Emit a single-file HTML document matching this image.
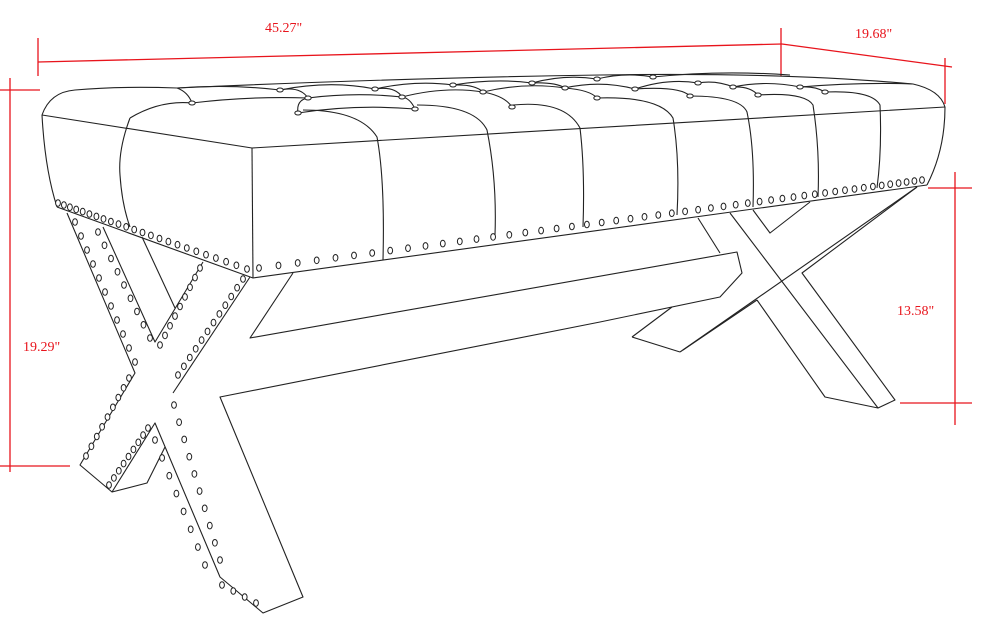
<!DOCTYPE html>
<html><head><meta charset="utf-8">
<style>
html,body{margin:0;padding:0;background:#fff;width:990px;height:634px;overflow:hidden}
svg{display:block}
.d{font-family:"Liberation Serif",serif;font-size:14px;fill:#e8141c}
</style></head><body>
<svg id="s" width="990" height="634" viewBox="0 0 990 634" xmlns="http://www.w3.org/2000/svg">
<g stroke="#e8141c" stroke-width="1.3" fill="none">
<line x1="38" y1="62" x2="782" y2="44"/>
<line x1="38" y1="38" x2="38" y2="76"/>
<line x1="781" y1="28" x2="781" y2="76"/>
<line x1="782" y1="44" x2="952" y2="67"/>
<line x1="945" y1="58" x2="945" y2="104"/>
<line x1="10" y1="78" x2="10" y2="472"/>
<line x1="0" y1="90" x2="40" y2="90"/>
<line x1="0" y1="466" x2="70" y2="466"/>
<line x1="955" y1="172" x2="955" y2="425"/>
<line x1="928" y1="188" x2="972" y2="188"/>
<line x1="900" y1="403" x2="972" y2="403"/>
</g>
<text class="d" x="265" y="32">45.27"</text>
<text class="d" x="855" y="38">19.68"</text>
<text class="d" x="23" y="351">19.29"</text>
<text class="d" x="897" y="315">13.58"</text>

<g stroke="#222" stroke-width="1.1" fill="none" stroke-linejoin="round">
<!-- bench body -->
<path d="M42,115 L252,148 L945,107"/>
<path d="M252,148 L253,278"/>
<path d="M57,207 L253,278 L927,185"/>
<path d="M42,115 Q45,170 57,207"/>
<path d="M945,107 Q945,150 927,185"/>
<path d="M42,115 Q50,92 75,90 Q120,86 177,88 Q400,78 600,75 Q780,72 913,84 Q940,90 945,107"/>
<!-- seams -->
<path d="M130,118 Q118,150 120,175 Q122,205 130,227"/>
<path d="M303,110 Q360,110 377,137 Q385,180 383,260"/>
<path d="M417,105 Q475,105 487,130 Q497,180 495,235"/>
<path d="M513,105 Q565,100 580,128 Q585,170 583,227"/>
<path d="M597,98 Q660,96 673,118 Q680,160 677,215"/>
<path d="M690,96 Q740,96 747,112 Q755,150 753,207"/>
<path d="M758,95 Q805,92 813,105 Q820,150 818,197"/>
<path d="M825,92 Q872,90 880,105 Q882,150 877,188"/>
<!-- tufting curves -->
<path d="M130,118 Q160,100 192,103"/>
<path d="M177,88 Q188,92 192,103"/>
<path d="M192,103 Q250,96 308,98 Q355,92 402,97 Q445,86 483,92 Q525,82 565,88 Q600,80 635,89 Q668,78 698,83 Q716,80 733,87 Q766,80 800,87 Q860,82 913,84"/>
<path d="M298,113 Q296,100 308,98"/>
<path d="M415,109 Q410,98 402,97"/>
<path d="M512,107 Q505,96 483,92"/>
<path d="M597,98 Q590,90 565,88"/>
<path d="M690,96 Q680,86 635,89"/>
<path d="M758,95 Q750,86 733,87"/>
<path d="M825,92 Q815,86 800,87"/>
<path d="M298,113 Q356,104 415,109"/>
<path d="M177,88 Q230,84 280,90 Q330,80 375,89 Q415,80 453,85 Q495,78 532,83 Q565,74 597,79 Q625,72 653,77 Q720,70 790,75"/>
<path d="M280,90 Q300,86 308,98"/>
<path d="M375,89 Q395,86 402,97"/>
<path d="M453,85 Q475,84 483,92"/>
<path d="M532,83 Q555,82 565,88"/>
<!-- left legs -->
<path d="M67,213 L135,373 L80,465 L112,492 L147,483 L165,447"/>
<path d="M112,492 L155,423 L220,577 L263,613 L303,597 L220,397 L600,322 L720,297 L742,273 L737,252 L250,338 L293,273"/>
<path d="M173,393 L250,277"/>
<path d="M103,227 L155,342 L203,262"/>
<path d="M142,237 L175,308"/>
<!-- right legs -->
<path d="M698,218 L720,253"/>
<path d="M730,213 L878,408 L895,400 L802,273 L917,187"/>
<path d="M680,352 L917,187"/>
<path d="M757,300 L825,397 L878,408"/>
<path d="M632,337 L680,352 M632,337 L672,307"/>
<path d="M683,350 L757,300"/>
<path d="M753,210 L770,233 L810,202"/>
</g>
<g id="st" stroke="#222" stroke-width="1" fill="#fff"></g>
</svg>
<script>
var g=document.getElementById('st'),h='';
function e(x,y,rx,ry){h+='<ellipse cx="'+x.toFixed(1)+'" cy="'+y.toFixed(1)+'" rx="'+(rx||2.4)+'" ry="'+(ry||3.3)+'"/>';}
function row(x1,y1,x2,y2,n,f){for(var i=0;i<n;i++){var t=n>1?i/(n-1):0;var u=f?f(t):t;e(x1+(x2-x1)*u,y1+(y2-y1)*u);}}
// buttons
[[192,103],[298,113],[308,98],[415,109],[402,97],[280,90],[375,89],[453,85],[483,92],[512,107],[597,98],[690,96],[758,95],[825,92],[532,83],[565,88],[635,89],[597,79],[653,77],[698,83],[733,87],[800,87]].forEach(function(p){h+='<ellipse cx="'+p[0]+'" cy="'+p[1]+'" rx="3.2" ry="2"/>';});
row(259,268,922,180,50,function(t){return t*(1.45-0.45*t);});
row(58,203,247,269,24,function(t){return t*(0.7+0.3*t);});
row(75,222,135,362,11);
row(98,232,150,338,9);
row(160,345,200,268,9);
row(178,375,243,279,12);
row(129,378,86,456,9);
row(148,428,109,485,9);
row(174,405,220,560,10);
row(155,440,205,565,8);
row(222,585,256,603,4);
g.innerHTML=h;
</script>
</body></html>
